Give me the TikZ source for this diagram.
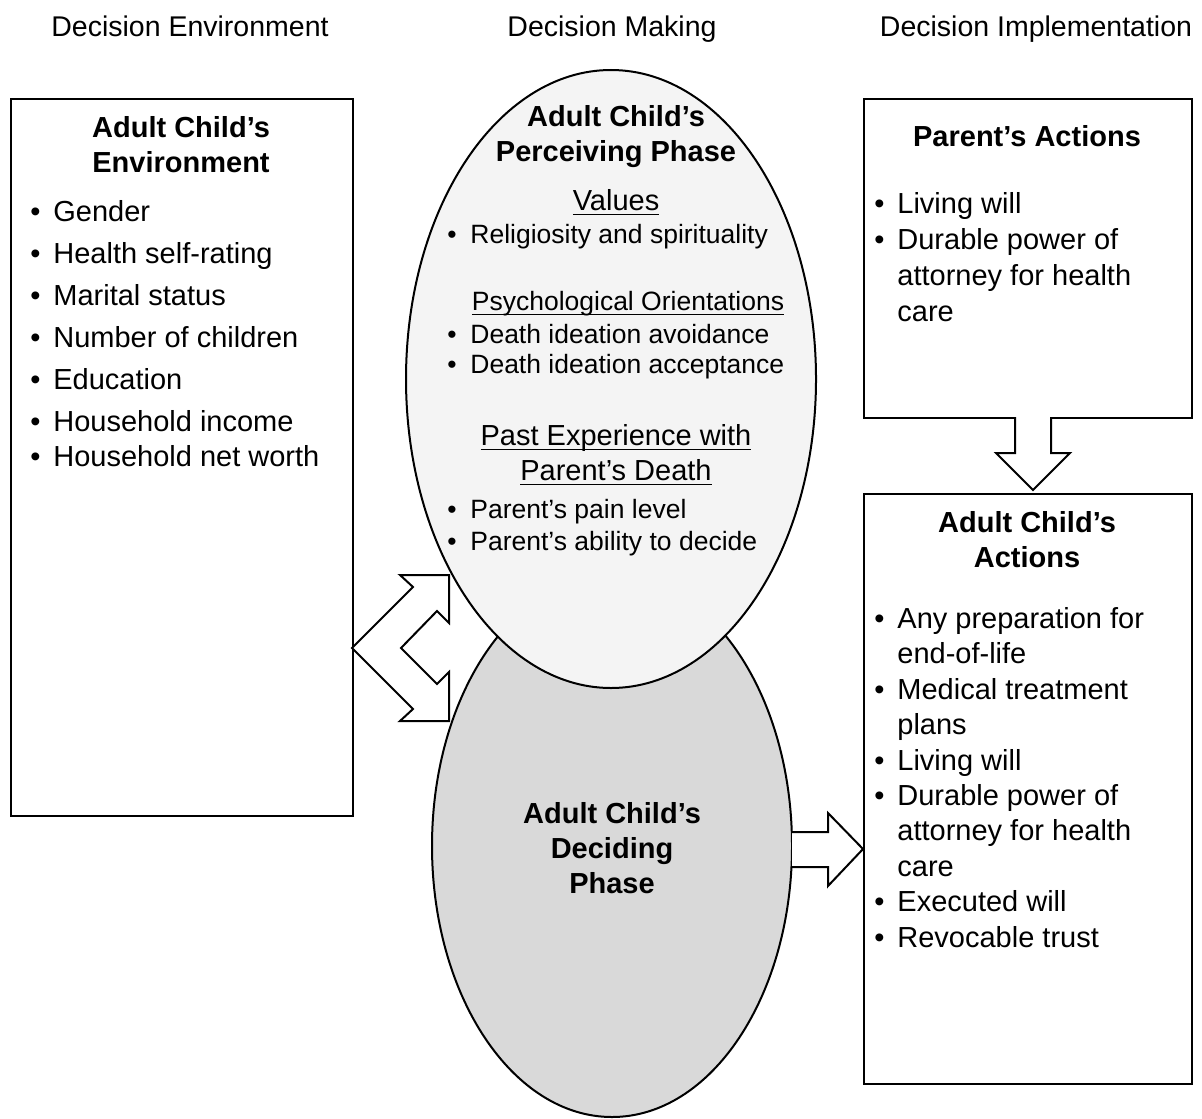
\documentclass[tikz,border=0pt]{standalone}
\usepackage{fontspec}
\setmainfont{Liberation Sans}
\usetikzlibrary{positioning}
\usetikzlibrary{shapes.geometric}
\definecolor{perceivefill}{gray}{0.957}
\definecolor{decidefill}{gray}{0.851}
\newcommand{\bul}{\makebox[11.5pt][l]{\textbullet}}
\newcommand{\bulskip}{\hspace*{11.5pt}}
\newcommand{\ulhead}[1]{\setbox0=\hbox{#1}\leavevmode\rlap{\rule[-2.6pt]{\wd0}{0.65pt}}\box0}
\tikzset{panel/.style = {draw, line width = 0.8pt, anchor = north west, inner sep = 0}}
\tikzset{phase/.style = {ellipse, draw, line width = 1pt, inner sep = 0}}
\tikzset{blockarrow/.style = {draw, fill = white, line width = 1pt, line join = miter}}
\tikzset{title/.style = {font = \bfseries\fontsize{14.5}{17.5}\selectfont, align = center, anchor = base, inner sep = 0}}
\tikzset{items/.style = {align = left, anchor = base west, inner sep = 0}}

\begin{document}
\begin{tikzpicture}[x = 0.5pt, y = -0.5pt]
      \useasboundingbox (0, 0) rectangle (1202, 1118);
      % column headings (multi-line nodes sit on their last baseline)
      \begin{scope}[every node/.style = {anchor = base, inner sep = 0, font = \fontsize{14.25}{17}\selectfont}]
        \node (hdenv) at (190, 37) {Decision Environment};
        \node (hdmake) at (612, 37) {Decision Making};
        \node (hdimpl) at (1036, 37) {Decision Implementation};
      \end{scope}
      % decision environment
      \node [panel, minimum width = 171pt, minimum height = 358.5pt] (env) at (10, 98) {};
      \node [title] (envtitle) at (181, 173) {Adult Child’s\\Environment};
      \node [items, font = \fontsize{14.5}{21}\selectfont] (envlist) at (30, 466)
        {\bul Gender\\\bul Health self-rating\\\bul Marital status\\\bul Number of children\\
         \bul Education\\\bul Household income\\[-3.5pt]\bul Household net worth};
      % two-way bent arrow
      \coordinate (bend) at (352, 648);
      \draw [blockarrow] (bend) -- (413, 587) -- (400, 575) -- (449, 575) -- (449, 623)
        -- (437, 611) -- (401, 648) -- (437, 684) -- (449, 672) -- (449, 721)
        -- (400, 721) -- (413, 709) -- cycle;
      % decision making
      \node [phase, fill = decidefill, minimum width = 180pt, minimum height = 271pt] (decide) at (612, 846) {};
      \node [phase, fill = perceivefill, minimum width = 205pt, minimum height = 309pt] (perceive) at (611, 379) {};
      \node [title] (ptitle) at (616, 162) {Adult Child’s\\Perceiving Phase};
      \node [anchor = base, inner sep = 0, font = \fontsize{14.5}{17.5}\selectfont] (values) at (616, 210) {\ulhead{Values}};
      \node [items, font = \fontsize{13.25}{15}\selectfont] (valuelist) at (447, 243) {\bul Religiosity and spirituality};
      \node [anchor = base, inner sep = 0, font = \fontsize{13.25}{15}\selectfont] (psych) at (628, 310) {\ulhead{Psychological Orientations}};
      \node [items, font = \fontsize{13.25}{15}\selectfont] (psychlist) at (447, 373)
        {\bul Death ideation avoidance\\\bul Death ideation acceptance};
      \node [align = center, anchor = base, inner sep = 0, font = \fontsize{14.5}{17.5}\selectfont] (past) at (616, 480)
        {\ulhead{Past Experience with}\\\ulhead{Parent’s Death}};
      \node [items, font = \fontsize{13.25}{16}\selectfont] (pastlist) at (447, 550)
        {\bul Parent’s pain level\\\bul Parent’s ability to decide};
      \node [title] (dtitle) at (612, 893) {Adult Child’s\\Deciding\\Phase};
      % decision implementation
      \node [panel, minimum width = 164pt, minimum height = 159.5pt] (pa) at (863, 98) {};
      \node [title] (patitle) at (1027, 147) {Parent’s Actions};
      \node [items, font = \fontsize{14.5}{18}\selectfont] (palist) at (874, 321)
        {\bul Living will\\\bul Durable power of\\\bulskip attorney for health\\\bulskip care};
      \node [panel, minimum width = 164pt, minimum height = 295pt] (ca) at (863, 493) {};
      \node [title] (catitle) at (1027, 567) {Adult Child’s\\Actions};
      \node [items, font = \fontsize{14.5}{17.7}\selectfont] (calist) at (874, 947)
        {\bul Any preparation for\\\bulskip end-of-life\\\bul Medical treatment\\\bulskip plans\\
         \bul Living will\\\bul Durable power of\\\bulskip attorney for health\\\bulskip care\\
         \bul Executed will\\\bul Revocable trust};
      % block arrows
      \draw [blockarrow] (1015, 417) -- (1015, 453) -- (996, 453) -- (1033, 490)
        -- (1070, 453) -- (1051, 453) -- (1051, 417);
      \draw [blockarrow] (792, 832) -- (828, 832) -- (828, 813) -- (863, 849)
        -- (828, 886) -- (828, 867) -- (792, 867);
    \end{tikzpicture}
\end{document}
